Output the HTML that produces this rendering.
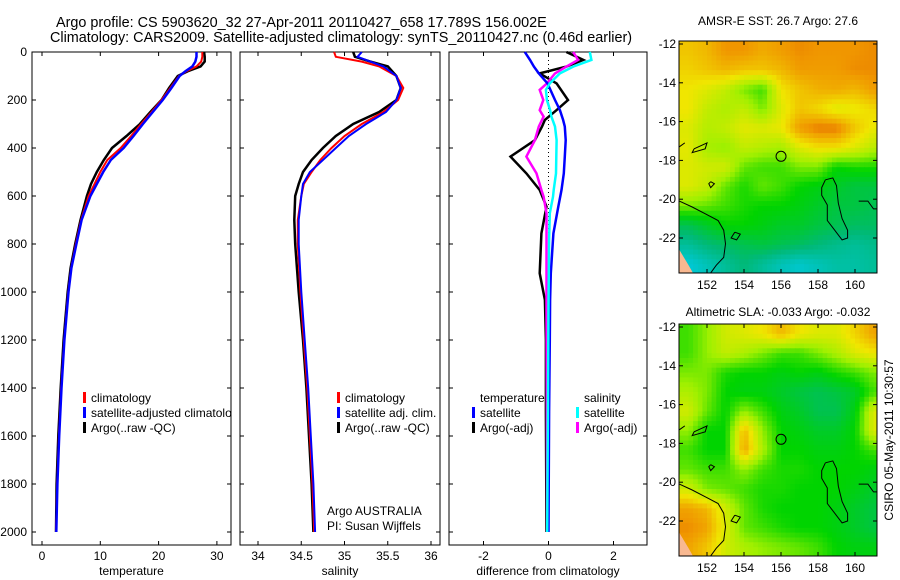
<!DOCTYPE html>
<html><head><meta charset="utf-8"><style>
html,body{margin:0;padding:0;background:#fff;}
svg{display:block;font-family:"Liberation Sans",sans-serif;}
text{font-size:12px;fill:#000;}
</style></head><body>
<svg id="fig" width="900" height="580" viewBox="0 0 900 580">
<text x="56" y="27" style="font-size:14.4px">Argo profile: CS 5903620_32 27-Apr-2011 20110427_658 17.789S 156.002E</text>
<text x="50" y="42" style="font-size:14.4px">Climatology: CARS2009. Satellite-adjusted climatology: synTS_20110427.nc (0.46d earlier)</text>
<text x="778" y="25" text-anchor="middle">AMSR-E SST: 26.7 Argo: 27.6</text>
<text x="778" y="316" text-anchor="middle">Altimetric SLA: -0.033 Argo: -0.032</text>
<text transform="translate(893,440) rotate(-90)" text-anchor="middle">CSIRO 05-May-2011 10:30:57</text>
<defs><clipPath id="p1clip"><rect x="32" y="52" width="199" height="493"/></clipPath></defs>
<g id="plots"></g>
</svg>
<script>
// ---------- profile data ----------
const tDepth = [0,20,40,60,80,100,150,200,250,300,350,400,450,500,550,600,700,800,900,1000,1200,1400,1600,1800,2000];
const tClim  = [27.5,27.5,27.3,26.5,24.8,23.5,22,20.5,18.8,17,15.3,13.5,11.2,10,9,8,6.7,5.8,5,4.5,3.8,3.3,2.9,2.6,2.4];
const tSat   = [26.5,26.5,26.3,25.8,24.6,23.6,22.2,20.7,19,17.3,15.7,14,11.8,10.5,9.4,8.3,6.8,5.9,5.05,4.55,3.85,3.35,2.95,2.65,2.45];
const tArgo  = [27.8,27.9,27.9,27.2,25,23.3,21.8,20.5,18.6,16.8,14.5,12,10.6,9.4,8.4,7.7,6.6,5.7,4.9,4.4,3.7,3.2,2.8,2.5,2.4];
const sDepth = [0,20,40,60,100,150,200,250,300,350,400,450,500,550,600,700,800,1000,1200,1400,1600,1800,2000];
const sClim  = [34.88,34.9,35.2,35.4,35.6,35.68,35.62,35.45,35.2,35.0,34.85,34.72,34.62,34.53,34.5,34.46,34.46,34.49,34.53,34.57,34.6,34.63,34.65];
const sSat   = [35.2,35.15,35.3,35.45,35.6,35.65,35.6,35.48,35.25,35.05,34.9,34.75,34.6,34.52,34.5,34.47,34.47,34.5,34.54,34.58,34.61,34.64,34.66];
const sArgo  = [35.1,35.12,35.3,35.5,35.6,35.65,35.6,35.4,35.1,34.9,34.75,34.62,34.52,34.47,34.43,34.42,34.43,34.47,34.52,34.56,34.59,34.62,34.64];
const dDepthT = [0,33,61,89,131,200,242,283,311,367,436,506,575,644,756,922,1033,1200,1500,2000];
const dTSat   = [-0.73,-0.57,-0.45,-0.3,-0.03,0.2,0.35,0.45,0.5,0.53,0.5,0.47,0.4,0.3,0.15,0.07,0.05,0.04,0.02,0.0];
const dTArgo  = [0.55,1.07,0.55,-0.27,0.25,0.6,0.25,-0.11,-0.2,-0.42,-1.17,-0.68,-0.27,-0.06,-0.22,-0.27,-0.11,-0.08,-0.08,-0.06];
const dDepthS = [0,33,61,89,131,158,200,242,269,311,367,436,506,575,603,672,783,1061,1500,2000];
const dSSat   = [1.27,1.32,0.76,0.35,0.04,-0.08,-0.05,0.05,0.09,0.2,0.25,0.24,0.23,0.16,0.14,0.04,0.02,0.0,-0.02,-0.04];
const dSArgo  = [0.76,0.91,0.55,0.2,-0.05,-0.27,-0.16,-0.27,-0.15,-0.3,-0.42,-0.68,-0.37,-0.22,-0.15,-0.06,-0.06,-0.06,-0.05,-0.04];
const depthTicks = [0,200,400,600,800,1000,1200,1400,1600,1800,2000];
const tTicks = [0,10,20,30];
const sTicks = [34,34.5,35,35.5,36];
const dTicks = [-2,0,2];
// ---------- map data (1-degree cells, rows from 12S southward, cols from 150.5E eastward) ----------
const sstRows = [
[0.8,0.82,0.87,0.87,0.84,0.86,0.88,0.87,0.87,0.87,0.88],
[0.78,0.8,0.82,0.8,0.8,0.82,0.86,0.86,0.86,0.88,0.88],
[0.75,0.72,0.68,0.6,0.55,0.75,0.8,0.83,0.84,0.82,0.86],
[0.75,0.68,0.65,0.68,0.6,0.72,0.8,0.77,0.72,0.74,0.77],
[0.72,0.66,0.68,0.73,0.72,0.74,0.86,0.9,0.9,0.8,0.74],
[0.73,0.64,0.62,0.68,0.66,0.64,0.72,0.76,0.76,0.72,0.67],
[0.72,0.7,0.7,0.58,0.55,0.55,0.6,0.6,0.5,0.52,0.52],
[0.72,0.68,0.58,0.52,0.58,0.55,0.5,0.48,0.45,0.42,0.42],
[0.6,0.58,0.55,0.52,0.5,0.5,0.48,0.45,0.42,0.42,0.4],
[0.4,0.45,0.5,0.5,0.48,0.45,0.45,0.42,0.4,0.38,0.38],
[0.3,0.35,0.38,0.4,0.42,0.4,0.38,0.35,0.32,0.3,0.32],
[0.2,0.25,0.3,0.35,0.3,0.25,0.22,0.25,0.28,0.28,0.3]];
const slaRows = [
[0.55,0.62,0.7,0.72,0.75,0.82,0.75,0.72,0.72,0.78,0.85],
[0.55,0.62,0.68,0.65,0.6,0.55,0.55,0.6,0.65,0.72,0.75],
[0.6,0.6,0.52,0.5,0.5,0.48,0.5,0.48,0.52,0.55,0.6],
[0.65,0.6,0.5,0.48,0.48,0.45,0.42,0.4,0.42,0.45,0.55],
[0.7,0.58,0.5,0.62,0.55,0.48,0.45,0.4,0.4,0.48,0.72],
[0.62,0.5,0.5,0.82,0.62,0.5,0.48,0.45,0.45,0.5,0.72],
[0.55,0.5,0.5,0.85,0.65,0.5,0.5,0.48,0.48,0.5,0.55],
[0.58,0.55,0.55,0.62,0.55,0.52,0.52,0.5,0.5,0.5,0.48],
[0.7,0.6,0.58,0.55,0.52,0.52,0.5,0.5,0.5,0.48,0.45],
[0.85,0.82,0.7,0.58,0.52,0.5,0.5,0.5,0.48,0.45,0.42],
[0.88,0.85,0.72,0.58,0.55,0.52,0.5,0.5,0.48,0.45,0.42],
[0.85,0.8,0.7,0.65,0.62,0.6,0.58,0.55,0.5,0.48,0.48]];
const lonTicks = [152,154,156,158,160];
const latTicks = [-12,-14,-16,-18,-20,-22];
const argoLon = 156.002, argoLat = -17.789;

const NS = 'http://www.w3.org/2000/svg';
const root = document.getElementById('plots');
function mk(tag, attrs, parent){const e=document.createElementNS(NS,tag);for(const k in attrs)e.setAttribute(k,attrs[k]);(parent||root).appendChild(e);return e;}

const Y0 = 52, YS = 0.24, FT = 52, FB = 545;
const yD = d => Y0 + d*YS;
function panel(name, x0, x1, xOf, ticks, label, showY){
  const g = mk('g',{});
  
  
  const f = mk('rect',{x:x0,y:FT,width:x1-x0,height:FB-FT,fill:'none',stroke:'#000','stroke-width':1},g);
  
  
  depthTicks.forEach(d=>{
    mk('line',{x1:x0,x2:x0+4,y1:yD(d),y2:yD(d),stroke:'#000'},g);
    mk('line',{x1:x1,x2:x1-4,y1:yD(d),y2:yD(d),stroke:'#000'},g);
    if(showY){const t=mk('text',{x:x0-5,y:yD(d)+4,'text-anchor':'end'},g);t.textContent=d;
      
      }
  });
  ticks.forEach(v=>{
    const x=xOf(v);
    mk('line',{x1:x,x2:x,y1:FB,y2:FB-4,stroke:'#000'},g);
    mk('line',{x1:x,x2:x,y1:FT,y2:FT+4,stroke:'#000'},g);
    const t=mk('text',{x:x,y:560,'text-anchor':'middle'},g);t.textContent=v;
    
    
  });
  const l=mk('text',{x:(x0+x1)/2,y:575,'text-anchor':'middle'},g);l.textContent=label;
  
  
  return g;
}
function line(g, depths, vals, xOf, color, name, w){
  const pts = depths.map((d,i)=>xOf(vals[i]).toFixed(1)+','+yD(d).toFixed(1)).join(' ');
  const p = mk('polyline',{points:pts,fill:'none',stroke:color,'stroke-width':w||2},g);
  
  
}
function legend(g, x, y, items){
  items.forEach((it,i)=>{
    if(it[0]) mk('rect',{x:x,y:y+i*15-10,width:3,height:11,fill:it[0]},g);
    const t=mk('text',{x:x+8,y:y+i*15},g);t.textContent=it[1];
    
    
  });
}
// Panel 1 temperature
const xT = v => 42 + v*5.83;
const g1 = panel('temperature-panel', 32, 231, xT, tTicks, 'temperature', true);
line(g1, tDepth, tArgo, xT, '#000', 'temperature-argo-line', 2.5);
line(g1, tDepth, tClim, xT, '#f00', 'temperature-climatology-line');
line(g1, tDepth, tSat, xT, '#00f', 'temperature-satellite-line', 2.5);
const lg1 = mk('g',{'clip-path':'url(#p1clip)'},g1);
legend(lg1, 83, 402, [['#f00','climatology'],['#00f','satellite-adjusted climatology'],['#000','Argo(..raw -QC)']]);
// Panel 2 salinity
const xS = v => 258 + (v-34)*86.5;
const g2 = panel('salinity-panel', 240, 440, xS, sTicks, 'salinity', false);
line(g2, sDepth, sArgo, xS, '#000', 'salinity-argo-line', 2.5);
line(g2, sDepth, sClim, xS, '#f00', 'salinity-climatology-line');
line(g2, sDepth, sSat, xS, '#00f', 'salinity-satellite-line');
legend(g2, 337, 402, [['#f00','climatology'],['#00f','satellite adj. clim.'],['#000','Argo(..raw -QC)']]);
const a1=mk('text',{x:327,y:515},g2);a1.textContent='Argo AUSTRALIA';


const a2=mk('text',{x:327,y:530},g2);a2.textContent='PI: Susan Wijffels';


// Panel 3 differences
const xDf = v => 548.5 + v*32.5;
const g3 = panel('difference-panel', 449, 647, xDf, dTicks, 'difference from climatology', false);
mk('line',{x1:xDf(0),x2:xDf(0),y1:52,y2:532,stroke:'#000','stroke-dasharray':'1,3'},g3);
line(g3, dDepthT, dTArgo, xDf, '#000', 'temp-argo-diff-line', 2.5);
line(g3, dDepthS, dSArgo, xDf, '#f0f', 'sal-argo-diff-line', 2.5);
line(g3, dDepthT, dTSat, xDf, '#00f', 'temp-satellite-diff-line', 2.5);
line(g3, dDepthS, dSSat, xDf, '#0ff', 'sal-satellite-diff-line', 2.5);
legend(g3, 472, 402, [[null,'temperature'],['#00f','satellite'],['#000','Argo(-adj)']]);
legend(g3, 576, 402, [[null,'salinity'],['#0ff','satellite'],['#f0f','Argo(-adj)']]);

// ---------- maps ----------
const cstops=[[0,[0,110,255]],[0.2,[0,200,215]],[0.35,[0,185,120]],[0.5,[0,212,0]],[0.63,[160,240,0]],[0.75,[240,230,0]],[0.87,[240,150,0]],[1,[200,20,0]]];
function cmap(v){v=Math.max(0,Math.min(1,v));for(let i=1;i<cstops.length;i++){if(v<=cstops[i][0]){const a=cstops[i-1],b=cstops[i],t=(v-a[0])/(b[0]-a[0]);return 'rgb('+a[1].map((c,k)=>Math.round(c+(b[1][k]-c)*t)).join(',')+')';}}return 'rgb(200,20,0)';}
const coasts=[
 [[150.5,-20.1],[151.2,-20.4],[152.0,-20.8],[152.6,-21.1],[152.9,-21.6],[153.0,-22.3],[152.9,-23.0],[152.5,-23.4],[152.2,-23.8]],
 [[158.4,-19.0],[158.8,-18.9],[159.0,-19.3],[159.1,-20.2],[159.3,-21.0],[159.6,-21.6],[159.6,-22.0],[159.3,-22.1],[158.9,-21.6],[158.5,-21.1],[158.5,-20.3],[158.2,-19.8],[158.2,-19.4],[158.4,-19.0]],
 [[160.2,-20.1],[160.7,-20.1],[161.0,-20.5],[161.2,-20.5]],
 [[151.3,-17.4],[152.0,-17.1],[151.9,-17.4],[151.2,-17.6],[151.3,-17.4]],
 [[150.5,-17.3],[150.8,-17.1]],
 [[152.2,-19.1],[152.4,-19.2],[152.2,-19.4],[152.1,-19.2],[152.2,-19.1]],
 [[153.5,-21.7],[153.8,-21.8],[153.6,-22.1],[153.3,-22.0],[153.5,-21.7]]];
function mapPlot(name, rows, top){
  const L=679,R=877,T=top,B=top+232;
  const lon0=150.5, py=19.4, px=18.5;
  const xL = lon => 707 + (lon-152)*px;
  const yL = lat => T + 3 + (-12 - lat)*py;
  const g=mk('g',{});
  
  
  const cid=name+'-clip';
  const cp=mk('clipPath',{id:cid},g);mk('rect',{x:L,y:T,width:R-L,height:B-T},cp);
  const cg=mk('g',{'clip-path':'url(#'+cid+')'},g);
  const nr=rows.length, nc=rows[0].length, sub=4;
  const val=(r,c)=>rows[Math.max(0,Math.min(nr-1,r))][Math.max(0,Math.min(nc-1,c))];
  for(let r=0;r<nr*sub;r++){for(let c=0;c<nc*sub;c++){
    const fr=(r+0.5)/sub-0.5, fc=(c+0.5)/sub-0.5;
    const r0=Math.floor(fr), c0=Math.floor(fc), tr=fr-r0, tc=fc-c0;
    const v=(1-tr)*((1-tc)*val(r0,c0)+tc*val(r0,c0+1))+tr*((1-tc)*val(r0+1,c0)+tc*val(r0+1,c0+1));
    const lonA=lon0+c/sub, latA=-11.85-r/sub;
    const cell=mk('rect',{x:xL(lonA).toFixed(1),y:yL(latA).toFixed(1),width:(px/sub+0.6).toFixed(1),height:(py/sub+0.6).toFixed(1),fill:cmap(v)},cg);
    
    
  }}
  mk('path',{d:'M'+xL(150.5)+','+yL(-22.6)+' L'+xL(151.0)+','+yL(-23.4)+' L'+xL(151.3)+','+yL(-23.9)+' L'+xL(150.5)+','+yL(-23.9)+'Z',fill:'#f8b890'},cg);
  coasts.forEach(c=>{const p=mk('polyline',{points:c.map(q=>xL(q[0]).toFixed(1)+','+yL(q[1]).toFixed(1)).join(' '),fill:'none',stroke:'#000','stroke-width':1},cg);
    
    });
  const m=mk('circle',{cx:xL(argoLon),cy:yL(argoLat),r:5,fill:'none',stroke:'#000','stroke-width':1},cg);
  
  
  mk('rect',{x:L,y:T,width:R-L,height:B-T,fill:'none',stroke:'#000'},g);
  lonTicks.forEach(v=>{const x=xL(v);mk('line',{x1:x,x2:x,y1:B,y2:B-4,stroke:'#000'},g);mk('line',{x1:x,x2:x,y1:T,y2:T+4,stroke:'#000'},g);
    const t=mk('text',{x:x,y:B+16,'text-anchor':'middle'},g);t.textContent=v;
    
    });
  latTicks.forEach(v=>{const y=yL(v);mk('line',{x1:L,x2:L+4,y1:y,y2:y,stroke:'#000'},g);mk('line',{x1:R,x2:R-4,y1:y,y2:y,stroke:'#000'},g);
    const t=mk('text',{x:L-3,y:y+4,'text-anchor':'end'},g);t.textContent=v;
    
    });
}
mapPlot('sst-map', sstRows, 41);
mapPlot('sla-map', slaRows, 324);
</script>
</body></html>
